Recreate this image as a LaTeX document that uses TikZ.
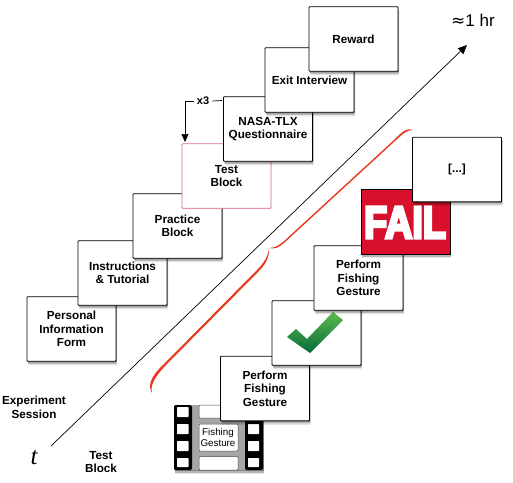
\documentclass[tikz,border=0pt]{standalone}
\usepackage{fontspec}
\setmainfont{Liberation Sans}
\newfontfamily\dejavufont{DejaVu Sans}
\newfontfamily\serifit{Liberation Serif}
\newfontfamily\failfont[FakeBold=7]{Liberation Sans Bold}
\usetikzlibrary{shadows,arrows.meta}
\definecolor{bracered}{HTML}{E8391E}
\definecolor{failred}{HTML}{D8102C}
\definecolor{checktop}{HTML}{5DBB4A}
\definecolor{checkbottom}{HTML}{056B3E}
\definecolor{testedge}{HTML}{DE6F80}
\tikzset{
  softshadow/.style={
    general shadow={shadow xshift=0.5pt,shadow yshift=-1.2pt,fill=black,opacity=.3,draw=none},
    general shadow={shadow xshift=1pt,shadow yshift=-2.5pt,fill=black,opacity=.2,draw=none},
    general shadow={shadow xshift=1.2pt,shadow yshift=-4pt,fill=black,opacity=.1,draw=none}},
  cardbase/.style={draw=black,fill=white,line width=.8pt,rounded corners=.8pt,
    minimum width=89pt,minimum height=64.5pt,inner sep=0pt,align=center,
    font=\fontsize{11.7}{13.6}\selectfont\bfseries},
  card/.style={cardbase,softshadow},
  testcard/.style={cardbase,draw=testedge,line width=.8pt,
    general shadow={shadow xshift=.4pt,shadow yshift=-.8pt,fill=testedge,opacity=.35,draw=none}},
  label/.style={inner sep=0pt,align=center,font=\fontsize{11.7}{13.8}\selectfont\bfseries},
  hole/.style={fill=white,rounded corners=.6pt},
  cell/.style={fill=white,draw=black!70,line width=.5pt,rounded corners=1pt},
  flow/.style={line width=.7pt,black},
}
\begin{document}
\begin{tikzpicture}[x=1pt,y=-1pt]
\useasboundingbox (0,0) rectangle (513,482);
% time axis
\coordinate (axisstart) at (51,446);
\coordinate (axisend) at (467,45);
\draw[flow,-{Triangle[length=9pt,width=8pt]}] (axisstart) -- (axisend);
\node[inner sep=0pt,font=\fontsize{17}{20}\selectfont] (hour) at (473,20) {{\dejavufont ≈}1 hr};
\node[inner sep=0pt,font=\fontsize{25}{28}\selectfont\serifit\itshape] (tlabel) at (34,458) {t};
\node[label] (session) at (34,407) {Experiment\\Session};
\node[label] (testlabel) at (101,462) {Test\\Block};
% upper row
\node[card] (personal) at (71.5,329) {Personal\\Information\\Form};
\node[card] (instr) at (122.5,273) {Instructions\\\& Tutorial};
\node[card] (practice) at (177.5,226) {Practice\\Block};
\node[testcard] (test) at (226.5,176) {Test\\Block};
\node[card] (nasa) at (268,129) {NASA-TLX\\Questionnaire};
\node[card] (exit) at (309.5,80) {Exit Interview};
\node[card] (reward) at (353.5,39) {Reward};
% x3 loop
\node[inner sep=0pt,font=\fontsize{11}{13}\selectfont\bfseries] (xthree) at (203,101) {x3};
\coordinate (loopin) at (185,142);
\coordinate (loopout) at (222,100.5);
\draw[flow,-{Triangle[length=8pt,width=7pt]}] ([xshift=-3pt]xthree.west) -| (loopin);
\draw[flow] ([xshift=3pt]xthree.east) -- (loopout);
% red brace
\fill[bracered] (152,393) .. controls (147,385) and (152,375) .. (163.5,364.5)
  -- (256.5,270.5) .. controls (262,265) and (268,258) .. (269,248)
  .. controls (269.5,259) and (264,266) .. (258,272)
  -- (165,366) .. controls (155,377) and (150,385) .. (152,393) -- cycle;
\fill[bracered] (269,248) .. controls (274,248) and (278,246) .. (283,242)
  -- (394,140) .. controls (400,134) and (406,127) .. (413,130)
  .. controls (406,129.5) and (401,136) .. (395,141)
  -- (284,243) .. controls (279,247.5) and (274,249.5) .. (269,248) -- cycle;
% film strip
\fill[black!35,softshadow] (174,405) rectangle (263,470);
\fill[black,rounded corners=1.5pt] (174,405) rectangle (192,470);
\fill[black,rounded corners=1.5pt] (245,405) rectangle (263,470);
\foreach \ya/\yb in {407/417,424/434,441/451,458/467}{
  \fill[hole] (177,\ya) rectangle (188.5,\yb);
  \fill[hole] (248,\ya) rectangle (259,\yb);
}
\draw[cell] (199,405) rectangle (238,418);
\draw[cell] (199,424) rectangle (238,451);
\draw[cell] (199,456.5) rectangle (238,470);
\node[inner sep=0pt,align=center,font=\fontsize{9.8}{11.5}\selectfont] (filmtext) at (218,437.5) {Fishing\\Gesture};
% lower row
\node[card] (perform1) at (265,388.5) {Perform\\Fishing\\Gesture};
\node[card] (checkbox) at (316.5,333) {};
\shade[top color=checktop,bottom color=checkbottom]
  (287,337) -- (296,329) -- (307,339) -- (333,312) -- (343,320) -- (310,353) -- cycle;
\node[card] (perform2) at (358.5,278) {Perform\\Fishing\\Gesture};
\node[card,fill=failred,rounded corners=0pt] (failbox) at (405.5,222) {};
\node[inner sep=0pt,text=white,xscale=.84,transform shape,font=\fontsize{45}{45}\selectfont\failfont] (failtext) at (405,222.5) {FAIL};
\node[card] (more) at (457,169.5) {[...]};
\end{tikzpicture}
\end{document}
